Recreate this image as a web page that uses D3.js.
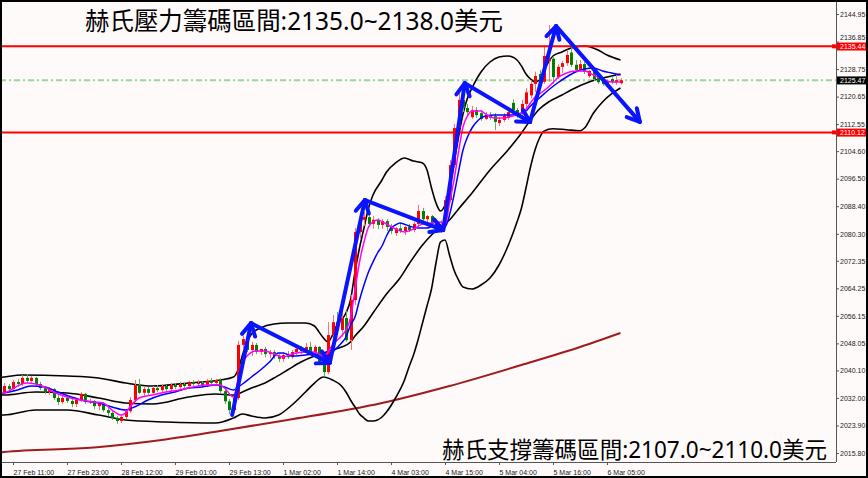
<!DOCTYPE html>
<html><head><meta charset="utf-8">
<script src="https://cdn.jsdelivr.net/npm/d3@7"></script>
<style>
html,body{margin:0;padding:0;background:#fffafa;}
svg{display:block;}
</style></head>
<body>
<svg id="chart" width="868" height="478"></svg>
<script>
// ---------- DATA ----------
// hourly candles [open, high, low, close]
const candles = [
[2033.7,2036.4,2033.2,2035.5],[2035.5,2036.1,2034.0,2034.6],[2034.6,2037.3,2034.0,2036.7],[2036.7,2037.6,2035.2,2036.1],
[2036.1,2038.7,2035.5,2037.9],[2037.9,2039.0,2036.4,2037.0],[2037.0,2038.4,2036.4,2037.9],[2037.9,2038.2,2035.5,2036.1],
[2036.1,2036.7,2034.3,2034.9],[2034.9,2035.5,2033.2,2033.7],[2033.7,2035.2,2032.9,2034.6],[2034.6,2034.9,2031.4,2032.0],
[2032.0,2032.9,2029.9,2030.8],[2030.8,2032.6,2030.2,2032.0],[2032.0,2032.6,2030.5,2031.1],[2031.1,2031.7,2029.3,2030.2],
[2030.2,2032.0,2029.3,2031.4],[2031.4,2033.7,2030.8,2033.2],[2033.2,2033.5,2030.2,2030.8],[2030.8,2031.7,2030.2,2031.1],
[2031.1,2031.4,2028.7,2029.6],[2029.6,2030.8,2028.4,2030.5],[2030.5,2030.8,2027.9,2028.4],[2028.4,2029.0,2026.7,2027.6],
[2027.6,2028.1,2025.5,2026.1],[2026.1,2026.7,2024.3,2025.2],[2025.2,2027.0,2024.6,2026.4],[2026.4,2028.7,2025.8,2028.1],
[2028.1,2032.3,2027.6,2031.4],[2031.4,2037.3,2030.8,2035.8],[2035.8,2037.6,2033.2,2033.5],[2033.5,2035.2,2032.6,2034.6],
[2034.6,2035.2,2032.9,2033.5],[2033.5,2035.5,2033.2,2034.9],[2034.9,2035.8,2033.7,2034.3],[2034.3,2036.1,2033.7,2035.5],
[2035.5,2035.8,2034.0,2034.6],[2034.6,2036.4,2034.0,2035.8],[2035.8,2036.4,2034.6,2035.2],[2035.2,2036.7,2034.6,2036.1],
[2036.1,2036.4,2034.9,2035.5],[2035.5,2037.0,2034.9,2036.7],[2036.7,2037.3,2035.5,2036.1],[2036.1,2037.3,2035.5,2036.4],
[2036.4,2036.9,2035.3,2035.8],[2035.8,2037.6,2035.2,2037.0],[2037.0,2037.9,2035.9,2036.4],[2036.4,2037.6,2035.8,2037.3],
[2037.3,2037.9,2033.5,2034.0],[2034.0,2034.6,2030.2,2031.0],[2031.0,2031.7,2027.2,2028.4],[2028.4,2032.6,2027.6,2032.0],
[2032.0,2048.8,2031.4,2047.6],[2047.6,2050.3,2046.1,2049.3],[2049.3,2050.0,2045.5,2046.1],[2046.1,2048.5,2044.3,2047.6],
[2047.6,2048.2,2044.9,2045.5],[2045.5,2046.4,2044.6,2046.4],[2046.4,2047.0,2044.0,2044.9],[2044.9,2046.1,2043.7,2045.5],
[2045.5,2046.1,2043.5,2044.3],[2044.3,2044.9,2042.6,2043.5],[2043.5,2045.5,2042.6,2044.6],[2044.6,2045.8,2043.5,2044.0],
[2044.0,2046.1,2043.5,2045.5],[2045.5,2047.3,2044.6,2046.4],[2046.4,2047.3,2044.9,2045.8],[2045.8,2048.2,2045.2,2047.0],
[2047.0,2048.5,2045.2,2045.5],[2045.5,2047.6,2044.9,2047.0],[2047.0,2047.3,2041.9,2042.6],[2042.6,2043.2,2038.2,2039.6],
[2039.6,2054.3,2039.0,2050.5],[2050.5,2056.4,2048.5,2054.3],[2054.3,2057.3,2050.5,2052.0],[2052.0,2057.9,2050.0,2055.5],
[2055.5,2057.6,2048.5,2049.0],[2049.0,2062.3,2046.1,2060.8],[2060.8,2082.0,2059.3,2080.8],[2080.8,2086.1,2078.5,2084.4],
[2084.4,2086.7,2082.6,2085.2],[2085.2,2086.4,2082.3,2083.2],[2083.2,2085.5,2081.7,2084.4],[2084.4,2084.9,2081.7,2082.9],
[2082.9,2084.6,2081.7,2084.0],[2084.0,2084.6,2081.1,2082.3],[2082.3,2083.2,2080.2,2081.1],[2080.5,2082.3,2079.6,2081.9],
[2081.9,2083.5,2080.5,2081.1],[2081.1,2082.6,2079.9,2082.3],[2082.3,2083.2,2080.8,2081.4],[2081.4,2083.8,2080.8,2083.2],
[2083.2,2088.8,2082.6,2087.0],[2087.0,2087.9,2083.8,2084.6],[2084.6,2085.8,2083.2,2085.5],[2085.5,2085.8,2082.3,2083.2],
[2083.2,2083.8,2081.1,2082.0],[2082.0,2084.3,2080.5,2082.9],[2082.9,2091.4,2081.7,2090.2],[2090.2,2102.0,2089.6,2100.5],
[2100.5,2112.6,2099.7,2111.4],[2111.4,2123.2,2110.8,2119.7],[2119.7,2120.8,2116.1,2117.3],[2117.3,2118.5,2114.9,2116.1],
[2114.6,2117.9,2114.1,2116.7],[2116.7,2117.6,2114.4,2115.2],[2115.8,2116.7,2113.5,2114.1],[2114.1,2116.1,2113.8,2115.2],
[2115.2,2116.1,2113.8,2114.4],[2114.9,2115.8,2110.8,2113.2],[2112.9,2114.7,2112.0,2113.8],[2113.8,2115.8,2113.2,2115.0],
[2114.4,2116.7,2113.8,2116.1],[2118.8,2119.9,2115.8,2116.7],[2116.7,2117.3,2114.4,2115.2],[2115.8,2119.7,2115.0,2118.5],
[2118.5,2123.2,2117.3,2121.9],[2121.0,2125.5,2120.2,2124.4],[2124.4,2128.0,2122.0,2126.7],[2127.3,2128.5,2124.4,2125.0],
[2125.0,2135.8,2124.4,2132.6],[2131.0,2141.7,2125.0,2131.8],[2131.8,2132.6,2124.4,2126.4],[2126.4,2130.2,2125.8,2129.4],
[2129.4,2131.1,2127.6,2130.5],[2130.5,2134.4,2129.7,2132.9],[2133.6,2135.8,2129.4,2130.0],[2130.0,2131.4,2127.9,2128.5],
[2128.5,2131.4,2127.9,2130.2],[2130.2,2130.8,2127.3,2127.9],[2126.7,2128.5,2126.1,2128.2],[2128.2,2128.8,2125.2,2125.8],
[2126.4,2127.0,2124.4,2124.9],[2125.5,2126.1,2123.8,2124.4],[2124.4,2125.5,2123.8,2125.2],[2125.8,2126.4,2124.4,2124.9],
[2124.9,2127.3,2124.1,2125.5],[2124.6,2126.1,2124.2,2125.47]
];
// indicator lines: [bar index, price]
const maFast = [[-1,2033.2],[0,2033.45],[5,2036.39],[9,2035.21],[11,2033.74],[14,2032.27],[17,2031.39],[20,2030.80],[22,2030.51],[24,2028.45],[26,2026.98],[27,2027.57],[28,2029.33],[30,2031.98],[33,2032.86],[36,2033.74],[39,2034.33],[42,2035.21],[45,2035.80],[48,2035.80],[49,2034.92],[51,2032.27],[52,2037.27],[53,2042.27],[54,2044.33],[56,2045.80],[58,2045.80],[60,2044.92],[62,2044.04],[64,2044.92],[67,2045.51],[69,2045.51],[71,2044.33],[72,2045.51],[73,2047.57],[75,2050.22],[76,2051.98],[77,2055.51],[78,2063.75],[79,2071.99],[80,2077.87],[81,2082.29],[82,2083.76],[83,2084.35],[85,2083.17],[87,2081.70],[89,2080.82],[91,2081.70],[93,2083.17],[95,2083.46],[97,2083.76],[98,2082.87],[99,2089.35],[100,2096.11],[101,2104.35],[102,2111.71],[103,2114.94],[104,2116.41],[106,2116.41],[107,2115.53],[109,2114.35],[111,2114.35],[113,2114.94],[115,2115.82],[116,2116.90],[117,2118.77],[118,2120.53],[119,2121.42],[121,2123.47],[123,2126.12],[125,2127.59],[127,2128.18],[129,2128.18],[131,2127.0],[133,2125.83],[135,2124.95],[137,2124.95]];
const maSlow = [[-1,2033.2],[0,2033.45],[3,2034.33],[6,2035.51],[9,2035.21],[12,2033.74],[15,2032.27],[18,2031.10],[21,2030.51],[24,2029.33],[27,2028.45],[29,2029.33],[32,2031.39],[35,2032.86],[38,2033.74],[41,2034.92],[44,2035.21],[47,2035.80],[49,2035.21],[51,2034.33],[52,2035.21],[53,2036.10],[55,2038.16],[57,2040.22],[59,2042.57],[61,2045.22],[62,2045.22],[64,2044.33],[67,2044.63],[70,2044.92],[71,2044.04],[72,2044.33],[73,2045.51],[75,2048.16],[76,2049.92],[77,2053.46],[78,2055.81],[79,2060.81],[80,2065.22],[81,2069.05],[82,2071.99],[83,2074.64],[84,2076.70],[85,2079.64],[86,2081.99],[87,2082.87],[88,2083.46],[90,2082.58],[92,2081.99],[94,2081.99],[96,2082.87],[97,2082.58],[98,2082.29],[99,2085.82],[100,2091.70],[101,2098.47],[102,2104.94],[103,2108.76],[104,2111.41],[105,2113.18],[107,2114.94],[109,2115.24],[111,2115.24],[113,2115.24],[115,2115.82],[116,2116.41],[117,2117.88],[119,2120.24],[121,2122.59],[123,2124.65],[125,2126.42],[127,2127.89],[129,2128.77],[131,2129.06],[133,2128.18],[135,2127.59],[137,2127.0]];
const bbUpper = [[-1,2038.0],[0,2038.16],[4,2038.74],[14,2038.45],[21,2037.86],[27,2036.39],[33,2035.51],[41,2036.39],[48,2037.27],[51,2038.16],[52,2040.22],[53,2044.63],[54,2048.45],[55,2050.81],[57,2052.57],[60,2053.75],[63,2054.04],[67,2054.04],[69,2053.16],[70,2051.40],[71,2049.63],[72,2048.45],[73,2050.51],[74,2053.46],[76,2056.98],[77,2060.81],[78,2069.05],[79,2076.11],[80,2081.99],[81,2087.88],[82,2091.70],[84,2096.11],[85,2098.47],[87,2101.12],[89,2102.59],[91,2101.70],[93,2101.12],[94,2099.06],[95,2093.76],[96,2089.35],[97,2087.0],[98,2088.76],[99,2093.76],[100,2101.12],[101,2108.76],[102,2115.53],[103,2120.24],[104,2123.18],[106,2127.89],[108,2130.83],[110,2132.30],[112,2132.59],[114,2131.42],[115,2129.65],[116,2127.30],[117,2125.83],[118,2124.95],[119,2125.53],[120,2128.48],[121,2130.83],[122,2132.59],[124,2133.77],[126,2134.95],[129,2135.54],[132,2134.36],[134,2132.89],[137,2131.42]];
const bbMid = [[-1,2032.9],[0,2032.86],[7,2033.74],[14,2033.45],[21,2031.98],[27,2030.51],[33,2030.21],[41,2032.27],[47,2033.16],[51,2032.86],[53,2033.74],[55,2034.92],[58,2036.39],[60,2037.86],[63,2040.22],[66,2042.57],[69,2044.33],[71,2045.22],[73,2046.10],[75,2046.98],[77,2048.45],[78,2050.22],[80,2053.16],[82,2056.98],[85,2062.58],[88,2067.29],[90,2071.40],[93,2076.99],[95,2079.93],[97,2082.29],[99,2084.35],[101,2087.58],[104,2092.29],[108,2099.06],[112,2104.94],[115,2109.94],[117,2113.77],[119,2117.0],[121,2119.06],[124,2121.12],[126,2122.59],[130,2124.95],[134,2126.42],[137,2127.30]];
const bbLower = [[-1,2027.0],[0,2026.98],[7,2028.45],[14,2028.45],[21,2026.98],[27,2025.51],[36,2024.92],[47,2024.62],[51,2026.09],[53,2027.27],[55,2026.68],[58,2026.09],[61,2026.98],[64,2029.92],[67,2033.74],[69,2036.39],[71,2038.16],[73,2037.27],[75,2035.51],[76,2033.74],[77,2031.39],[78,2029.33],[79,2027.27],[80,2026.09],[81,2025.21],[82,2025.21],[84,2026.39],[85,2027.86],[87,2031.98],[89,2037.27],[90,2041.10],[91,2044.63],[92,2049.04],[93,2054.04],[94,2059.05],[95,2064.05],[96,2071.69],[97,2077.87],[98,2078.46],[99,2074.05],[100,2069.64],[101,2066.70],[102,2064.64],[104,2064.05],[106,2065.22],[108,2067.29],[110,2071.11],[112,2076.70],[114,2083.76],[115,2087.88],[116,2093.76],[117,2099.94],[118,2104.94],[119,2108.47],[120,2110.5],[122,2111.2],[125,2110.9],[128,2110.6],[129,2111.41],[131,2115.82],[133,2119.06],[135,2121.42],[137,2123.18]];
const maLong = [[-1,2015.8],[0,2016.09],[20,2017.42],[35,2019.62],[48,2022.27],[63,2025.51],[84,2030.51],[99,2035.51],[115,2041.69],[128,2046.98],[137,2051.10]];
// annotation arrows (zig-zag), [bar index, price]
const arrowPoints = [[50.7,2027.0],[54.9,2054.0],[72.4,2042.3],[80.2,2090.2],[97.6,2081.4],[102.4,2124.6],[116.9,2113.2],[122.7,2141.4],[141.3,2113.2]];
const resistanceLevel = 2135.44;
const supportLevel = 2110.12;
const bidPrice = 2125.47;
const yTicks = [2144.95,2136.85,2128.75,2120.65,2112.55,2104.60,2096.50,2088.40,2080.30,2072.35,2064.25,2056.15,2048.05,2040.10,2032.00,2023.90,2015.80];
const xTickIdx = [2,14,26,38,50,62,74,86,98,110,122,134];
const xTickLabels = ["27 Feb 11:00","27 Feb 23:00","28 Feb 12:00","29 Feb 01:00","29 Feb 13:00","1 Mar 02:00","1 Mar 14:00","4 Mar 03:00","4 Mar 15:00","5 Mar 04:00","5 Mar 16:00","6 Mar 05:00"];
const titleTop = "赫氏壓力籌碼區間:2135.0~2138.0美元";
const titleBottom = "赫氏支撐籌碼區間:2107.0~2110.0美元";

// ---------- DRAW ----------
const W = 868, H = 478, plotR = 836, plotB = 462;
const FONT = "'Liberation Sans', Arial, sans-serif";
const CJK = "'Noto Sans', 'Noto Sans CJK TC', sans-serif";
const svg = d3.select("#chart");
svg.append("rect").attr("width", W).attr("height", H).attr("fill", "#fffafa");

const x = d3.scaleLinear().domain([0, 137]).range([4, 620.5]);
const y = d3.scaleLinear().domain([2015.80, 2144.95]).range([453, 14]);

svg.append("defs").append("clipPath").attr("id", "clip")
  .append("rect").attr("x", 0).attr("y", 0).attr("width", plotR).attr("height", plotB);
const g = svg.append("g").attr("clip-path", "url(#clip)");

// bid line
g.append("line").attr("x1", 0).attr("x2", plotR).attr("y1", y(bidPrice)).attr("y2", y(bidPrice))
  .attr("stroke", "#99d699").attr("stroke-width", 2).attr("stroke-dasharray", "6,3,2,3");

const lineGen = d3.line().x(d => x(d[0])).y(d => y(d[1])).curve(d3.curveMonotoneX);
function drawLine(data, color, w) {
  g.append("path").datum(data).attr("d", lineGen).attr("fill", "none")
    .attr("stroke", color).attr("stroke-width", w).attr("stroke-linejoin", "round");
}
drawLine(maLong, "#a01c1c", 2);
drawLine(bbUpper, "#000", 1.6);
drawLine(bbMid, "#000", 1.6);
drawLine(bbLower, "#000", 1.6);

// candles
const cg = g.append("g");
candles.forEach((c, i) => {
  const [o, h, l, cl] = c;
  const up = cl >= o;
  const cx = Math.round(x(i));
  cg.append("line").attr("x1", cx + 0.5).attr("x2", cx + 0.5)
    .attr("y1", y(h)).attr("y2", y(l))
    .attr("stroke", up ? "#ff7070" : "#60b060").attr("stroke-width", 1);
  const top = Math.min(y(o), y(cl));
  const hgt = Math.max(1, Math.abs(y(o) - y(cl)));
  cg.append("rect").attr("x", cx - 1).attr("y", top).attr("width", 3).attr("height", hgt)
    .attr("fill", up ? "#ff0000" : "#008000");
});

drawLine(maSlow, "#0000ff", 1.5);
drawLine(maFast, "#ff00ff", 1.5);

// red levels
[resistanceLevel, supportLevel].forEach(p => {
  g.append("line").attr("x1", 0).attr("x2", plotR).attr("y1", y(p)).attr("y2", y(p))
    .attr("stroke", "#ff0000").attr("stroke-width", 2);
});

// arrows
const ag = svg.append("g").attr("clip-path", "url(#clip)");
for (let k = 0; k < arrowPoints.length - 1; k++) {
  const x1 = x(arrowPoints[k][0]), y1 = y(arrowPoints[k][1]);
  const x2 = x(arrowPoints[k + 1][0]), y2 = y(arrowPoints[k + 1][1]);
  ag.append("line").attr("x1", x1).attr("y1", y1).attr("x2", x2).attr("y2", y2)
    .attr("stroke", "#0a14ff").attr("stroke-width", 4).attr("stroke-linecap", "round");
  const ang = Math.atan2(y2 - y1, x2 - x1);
  const len = 14, spread = 0.5;
  [ang + Math.PI - spread, ang + Math.PI + spread].forEach(a => {
    ag.append("line").attr("x1", x2).attr("y1", y2)
      .attr("x2", x2 + len * Math.cos(a)).attr("y2", y2 + len * Math.sin(a))
      .attr("stroke", "#0a14ff").attr("stroke-width", 4).attr("stroke-linecap", "round");
  });
}

// axes
const yAxis = d3.axisRight(y).tickValues(yTicks).tickSize(3).tickPadding(1).tickFormat(d3.format(".2f"));
const ya = svg.append("g").attr("transform", `translate(${plotR},0)`).call(yAxis);
ya.select(".domain").attr("stroke", "#555").attr("d", `M0.5,0V${plotB}`);
ya.selectAll(".tick line").attr("stroke", "#555");
ya.selectAll("text").attr("font-family", FONT).attr("font-size", 7).attr("fill", "#222")
  .attr("dy", d => (d === 2136.85 ? "-0.25em" : "0.32em"));

const xAxis = d3.axisBottom(x).tickValues(xTickIdx).tickSize(3).tickPadding(5)
  .tickFormat((d, k) => xTickLabels[k]);
const xa = svg.append("g").attr("transform", `translate(0,${plotB})`).call(xAxis);
xa.select(".domain").attr("stroke", "#555").attr("d", `M0,0.5H${plotR}`);
xa.selectAll(".tick line").attr("stroke", "#555");
xa.selectAll("text").attr("text-anchor", "start").attr("font-family", FONT)
  .attr("font-size", 7).attr("fill", "#222");

// price tags
function tag(p, color) {
  const yy = y(p);
  svg.append("rect").attr("x", plotR + 1).attr("y", yy - 3.8).attr("width", W - plotR - 1).attr("height", 8).attr("fill", color);
  svg.append("text").attr("x", plotR + 4).attr("y", yy + 2.6).attr("fill", "#fff")
    .attr("font-family", FONT).attr("font-size", 7).text(p.toFixed(2));
}
tag(resistanceLevel, "#ff0000");
tag(supportLevel, "#ff0000");
tag(bidPrice, "#000000");
[resistanceLevel, supportLevel].forEach(p => {
  svg.append("rect").attr("x", plotR - 4).attr("y", y(p) - 2).attr("width", 4).attr("height", 4).attr("fill", "#ff0000");
});

// titles
svg.append("text").attr("x", 85).attr("y", 30).attr("font-family", CJK)
  .attr("font-size", 25).attr("fill", "#000").attr("textLength", 418).attr("lengthAdjust", "spacingAndGlyphs").text(titleTop);
svg.append("text").attr("x", 442).attr("y", 458).attr("font-family", CJK)
  .attr("font-size", 23).attr("fill", "#000").attr("textLength", 385).attr("lengthAdjust", "spacingAndGlyphs").text(titleBottom);

// outer frame
svg.append("rect").attr("x", 1).attr("y", 1).attr("width", W - 2).attr("height", H - 2)
  .attr("fill", "none").attr("stroke", "#000").attr("stroke-width", 2);
</script>
</body></html>
